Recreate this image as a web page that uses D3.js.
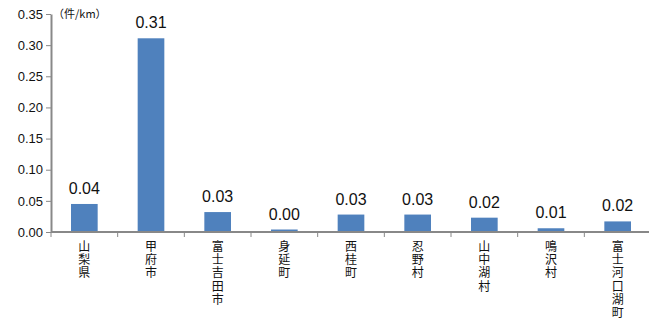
<!DOCTYPE html>
<html>
<head>
<meta charset="utf-8">
<script src="https://cdn.jsdelivr.net/npm/d3@7"></script>
<style>
  body { margin: 0; background: #fff; }
  svg { display: block; font-family: "Liberation Sans", Arial, "Noto Sans CJK JP", sans-serif; }
</style>
</head>
<body>
<svg width="649" height="320"></svg>
<script>
// data
var categories = ["山梨県", "甲府市", "富士吉田市", "身延町", "西桂町", "忍野村", "山中湖村", "鳴沢村", "富士河口湖町"];
var values = [0.045, 0.311, 0.032, 0.004, 0.028, 0.028, 0.023, 0.006, 0.017];
var valueLabels = ["0.04", "0.31", "0.03", "0.00", "0.03", "0.03", "0.02", "0.01", "0.02"];
var yTicks = [0, 0.05, 0.10, 0.15, 0.20, 0.25, 0.30, 0.35];
var unitLabel = "（件/km）";

var svg = d3.select("svg");
var plotLeft = 51, plotRight = 651, plotTop = 14, plotBottom = 232;

var x = d3.scaleBand()
    .domain(categories)
    .range([plotLeft, plotRight])
    .paddingInner(0.6)
    .paddingOuter(0.3);

var y = d3.scaleLinear()
    .domain([0, 0.35])
    .range([plotBottom, plotTop]);

// bars
svg.append("g")
  .selectAll("rect")
  .data(values)
  .enter().append("rect")
    .attr("x", function(d, i) { return x(categories[i]); })
    .attr("y", function(d) { return y(d); })
    .attr("width", x.bandwidth())
    .attr("height", function(d) { return plotBottom - y(d); })
    .attr("fill", "#4f81bd");

// value labels
svg.append("g")
  .selectAll("text")
  .data(values)
  .enter().append("text")
    .attr("x", function(d, i) { return x(categories[i]) + x.bandwidth() / 2; })
    .attr("y", function(d) { return y(d) - 10; })
    .attr("text-anchor", "middle")
    .attr("font-size", 16)
    .attr("fill", "#111")
    .text(function(d, i) { return valueLabels[i]; });

// y axis
var yAxis = svg.append("g")
    .attr("transform", "translate(" + plotLeft + ",0)")
    .call(d3.axisLeft(y).tickValues(yTicks).tickFormat(d3.format(".2f")).tickSize(5).tickSizeOuter(0));
yAxis.select(".domain").attr("stroke", "#888").attr("stroke-width", 2);
yAxis.selectAll(".tick line").attr("stroke", "#888");
yAxis.selectAll(".tick text").attr("font-size", 13).attr("fill", "#111")
    .attr("font-family", "Liberation Sans, Arial, sans-serif").attr("x", -8);

// x axis: ticks at category boundaries
var xAxis = svg.append("g");
xAxis.append("line")
    .attr("x1", plotLeft).attr("x2", plotRight)
    .attr("y1", plotBottom).attr("y2", plotBottom)
    .attr("stroke", "#888").attr("stroke-width", 2);
var step = x.step();
xAxis.selectAll("line.tk")
  .data(d3.range(categories.length + 1))
  .enter().append("line")
    .attr("class", "tk")
    .attr("x1", function(i) { return plotLeft + i * step; })
    .attr("x2", function(i) { return plotLeft + i * step; })
    .attr("y1", plotBottom).attr("y2", plotBottom + 5)
    .attr("stroke", "#888");

// vertical category labels, one character per line
categories.forEach(function(c) {
  var cx = x(c) + x.bandwidth() / 2;
  var t = svg.append("text")
      .attr("text-anchor", "middle")
      .attr("font-size", 12)
      .attr("fill", "#111")
      .attr("font-family", "Noto Sans CJK JP, sans-serif");
  c.split("").forEach(function(ch, j) {
    t.append("tspan")
      .attr("x", cx)
      .attr("y", 251 + j * 13.2)
      .text(ch);
  });
});

// unit label
svg.append("text")
    .attr("x", 53).attr("y", 18)
    .attr("font-size", 11)
    .attr("fill", "#111")
    .attr("font-family", "Noto Sans CJK JP, sans-serif")
    .text(unitLabel);
</script>
</body>
</html>
